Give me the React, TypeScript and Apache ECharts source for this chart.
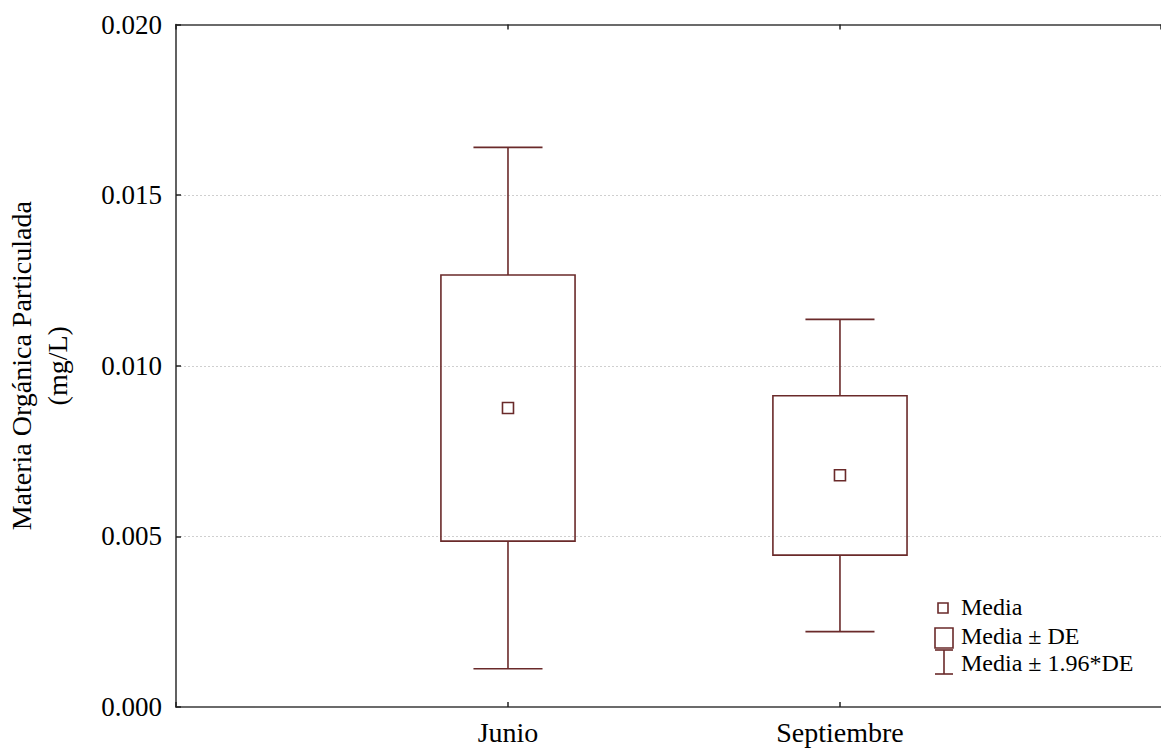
import React, { useEffect, useRef } from "react";
import * as echarts from "echarts";

const categories = ["Junio", "Septiembre"];
const means = [0.00876, 0.00679];
const boxLow = [0.00486, 0.00445];
const boxHigh = [0.01266, 0.00912];
const whiskerLow = [0.00112, 0.00221];
const whiskerHigh = [0.0164, 0.01136];
const yTicks = [0, 0.005, 0.01, 0.015, 0.02];
const xExtent = [0, 2.967];
const legendLabels = ["Media", "Media ± DE", "Media ± 1.96*DE"];

const COLOR = "#6a2a2a";
const FONT = "'Liberation Serif', 'Times New Roman', serif";

export default function App() {
  const ref = useRef<HTMLDivElement>(null);
  useEffect(() => {
    if (!ref.current) return;
    const chart = echarts.init(ref.current, null, { renderer: "svg" });
    const data = categories.map((c, i) => [
      i + 1,
      means[i],
      boxLow[i],
      boxHigh[i],
      whiskerLow[i],
      whiskerHigh[i],
    ]);
    const stroke = { stroke: COLOR, lineWidth: 1.6, fill: "none" };
    const lx = 935;
    const ly = 598;
    const axisLine = { show: true, lineStyle: { color: "#3a3a3a", width: 1.6 } };
    const axisTick = { show: true, inside: true, length: 5, lineStyle: { color: "#222", width: 1.5 } };
    const labelFor = (v: number) => {
      const i = Math.round(v);
      return Math.abs(v - i) < 1e-6 ? categories[i - 1] ?? "" : "";
    };
    chart.setOption({
      animation: false,
      backgroundColor: "#ffffff",
      grid: {
        left: 176,
        top: 24.5,
        right: 0,
        height: 682.5,
        outerBoundsMode: "none",
        containLabel: false,
      },
      xAxis: [
        {
          type: "value",
          position: "bottom",
          min: xExtent[0],
          max: xExtent[1],
          interval: 1,
          axisLine,
          axisTick,
          splitLine: { show: false },
          axisLabel: {
            formatter: labelFor,
            showMaxLabel: false,
            fontFamily: FONT,
            fontSize: 28,
            color: "#000",
            margin: 11,
          },
        },
        {
          type: "value",
          position: "top",
          min: xExtent[0],
          max: xExtent[1],
          interval: 1,
          axisLine,
          axisTick,
          splitLine: { show: false },
          axisLabel: { show: false },
        },
      ],
      yAxis: {
        type: "value",
        min: yTicks[0],
        max: yTicks[yTicks.length - 1],
        interval: 0.005,
        name: "Materia Orgánica Particulada\n(mg/L)",
        nameLocation: "middle",
        nameGap: 101,
        nameTextStyle: {
          fontFamily: FONT,
          fontSize: 28,
          color: "#000",
          lineHeight: 36,
        },
        axisLine,
        axisTick,
        splitLine: {
          show: true,
          showMaxLine: false,
          showMinLine: false,
          lineStyle: { color: "#cfcfcf", type: [2, 2], width: 1 },
        },
        axisLabel: {
          formatter: (v: number) => v.toFixed(3),
          fontFamily: FONT,
          fontSize: 27,
          color: "#000",
          margin: 14,
        },
      },
      series: [
        {
          type: "custom",
          silent: true,
          data,
          renderItem: (params: any, api: any) => {
            const x = api.value(0);
            const m = api.coord([x, api.value(1)]);
            const bLo = api.coord([x, api.value(2)]);
            const bHi = api.coord([x, api.value(3)]);
            const wLo = api.coord([x, api.value(4)]);
            const wHi = api.coord([x, api.value(5)]);
            const bw = api.size([0.404, 0])[0];
            const cw = api.size([0.208, 0])[0];
            const cx = m[0];
            const ms = 11;
            return {
              type: "group",
              children: [
                {
                  type: "rect",
                  shape: { x: cx - bw / 2, y: bHi[1], width: bw, height: bLo[1] - bHi[1] },
                  style: stroke,
                },
                { type: "line", shape: { x1: cx, y1: wHi[1], x2: cx, y2: bHi[1] }, style: stroke },
                { type: "line", shape: { x1: cx - cw / 2, y1: wHi[1], x2: cx + cw / 2, y2: wHi[1] }, style: stroke },
                { type: "line", shape: { x1: cx, y1: bLo[1], x2: cx, y2: wLo[1] }, style: stroke },
                { type: "line", shape: { x1: cx - cw / 2, y1: wLo[1], x2: cx + cw / 2, y2: wLo[1] }, style: stroke },
                {
                  type: "rect",
                  shape: { x: cx - ms / 2, y: m[1] - ms / 2, width: ms, height: ms },
                  style: stroke,
                },
              ],
            };
          },
        },
      ],
      graphic: [
        {
          type: "group",
          x: lx,
          y: ly,
          children: [
            { type: "rect", shape: { x: 3, y: 5, width: 10, height: 10 }, style: stroke },
            { type: "rect", shape: { x: 0, y: 30, width: 18, height: 20 }, style: stroke },
            { type: "line", shape: { x1: 0, y1: 52, x2: 18, y2: 52 }, style: stroke },
            { type: "line", shape: { x1: 9, y1: 52, x2: 9, y2: 76 }, style: stroke },
            { type: "line", shape: { x1: 0, y1: 76, x2: 18, y2: 76 }, style: stroke },
            ...legendLabels.map((t, i) => ({
              type: "text",
              x: 26,
              y: [9, 38, 65][i],
              style: {
                text: t,
                fontFamily: FONT,
                fontSize: 24,
                fill: "#000",
                verticalAlign: "middle",
                align: "left",
              },
            })),
          ],
        },
      ],
    });
    return () => chart.dispose();
  }, []);
  return (
    <div
      ref={ref}
      style={{
        position: "fixed",
        left: 0,
        top: 0,
        width: 1161,
        height: 750,
        background: "#fff",
        overflow: "hidden",
      }}
    />
  );
}
